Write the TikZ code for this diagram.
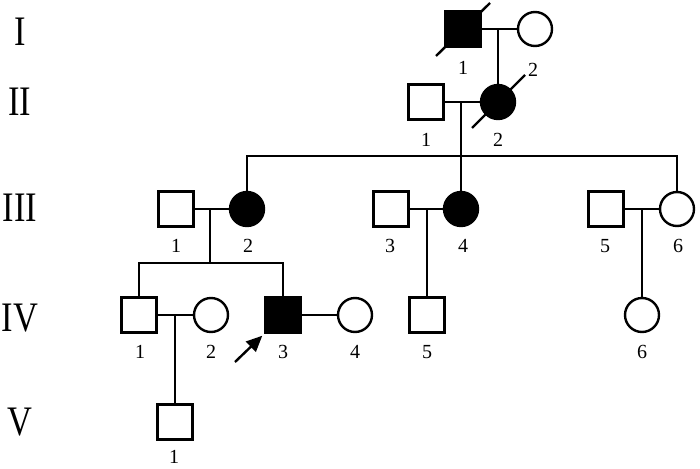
\documentclass[tikz,border=0pt]{standalone}
\usepackage{fontspec}
\setmainfont{Liberation Serif}
\usetikzlibrary{arrows.meta}

\begin{document}
\begin{tikzpicture}[x=1pt, y=-1pt]
  % Styles
  \tikzstyle{male}=[rectangle, draw, fill=white, minimum size=35pt, inner sep=0pt, line width=2.4pt]
  \tikzstyle{female}=[circle, draw, fill=white, minimum size=34pt, inner sep=0pt, line width=2.4pt]
  \tikzstyle{ill}=[fill=black]
  \tikzstyle{num}=[font=\fontsize{20}{20}\selectfont, inner sep=0pt]
  \tikzstyle{gen}=[font=\fontsize{42}{42}\selectfont, inner sep=0pt]
  \tikzstyle{link}=[line width=2.4pt]

  \useasboundingbox (0,0) rectangle (700,468);

  % Generation numerals
  \node[gen] (gI) at (20,32) {\scalebox{0.82}[1]{I}};
  \node[gen] (gII) at (20,102) {\scalebox{0.82}[1]{II}};
  \node[gen] (gIII) at (20,208) {\scalebox{0.82}[1]{III}};
  \node[gen] (gIV) at (20,318) {\scalebox{0.82}[1]{IV}};
  \node[gen] (gV) at (20,422) {\scalebox{0.82}[1]{V}};

  % Generation I
  \node[male, ill] (I1) at (463,29) {};
  \node[female] (I2) at (535,29) {};
  \draw[link] ([shift={(-27,27)}]I1.center) -- ([shift={(27,-26)}]I1.center);
  \draw[link] (I1) -- (I2);
  \coordinate (mI) at (498,29);

  % Generation II
  \node[male] (II1) at (426,102) {};
  \node[female, ill] (II2) at (498,102) {};
  \draw[link] ([shift={(-26,26)}]II2.center) -- ([shift={(27,-27)}]II2.center);
  \draw[link] (mI) -- (II2);
  \draw[link] (II1) -- (II2);
  \coordinate (mII) at (461,102);
  \coordinate (sII) at (461,156);

  % Generation III
  \node[male] (III1) at (176,209) {};
  \node[female, ill] (III2) at (247,209) {};
  \node[male] (III3) at (391,209) {};
  \node[female, ill] (III4) at (461,209) {};
  \node[male] (III5) at (606,209) {};
  \node[female] (III6) at (677,209) {};
  \draw[link] (mII) -- (sII);
  \draw[link] (III2) |- (sII) -| (III6);
  \draw[link] (sII) -- (III4);
  \draw[link] (III1) -- (III2);
  \draw[link] (III3) -- (III4);
  \draw[link] (III5) -- (III6);
  \coordinate (mIII1) at (210,209);
  \coordinate (sIII1) at (210,263);
  \coordinate (mIII2) at (427,209);
  \coordinate (mIII3) at (642,209);

  % Generation IV
  \node[male] (IV1) at (139,315) {};
  \node[female] (IV2) at (211,315) {};
  \node[male, ill] (IV3) at (283,315) {};
  \node[female] (IV4) at (355,315) {};
  \node[male] (IV5) at (427,315) {};
  \node[female] (IV6) at (642,315) {};
  \draw[link] (mIII1) -- (sIII1);
  \draw[link] (IV1) |- (sIII1) -| (IV3);
  \draw[link] (mIII2) -- (IV5);
  \draw[link] (mIII3) -- (IV6);
  \draw[link] (IV1) -- (IV2);
  \draw[link] (IV3) -- (IV4);
  \coordinate (mIV) at (175,315);

  % Generation V
  \node[male] (V1) at (175,422) {};
  \draw[link] (mIV) -- (V1);

  % Proband arrow
  \coordinate (pb) at (235,362);
  \coordinate (pt) at ([shift={(-2,2)}]IV3.south west);
  \draw[link, -{Triangle[length=16pt, width=14pt]}] (pb) -- (pt);

  % Individual numbers
  \node[num] (lI1) at (463,68) {1};
  \node[num] (lI2) at (533,70) {2};
  \node[num] (lII1) at (426,140) {1};
  \node[num] (lII2) at (498,140) {2};
  \node[num] (lIII1) at (176,246) {1};
  \node[num] (lIII2) at (248,246) {2};
  \node[num] (lIII3) at (390,246) {3};
  \node[num] (lIII4) at (463,246) {4};
  \node[num] (lIII5) at (605,246) {5};
  \node[num] (lIII6) at (678,246) {6};
  \node[num] (lIV1) at (140,352) {1};
  \node[num] (lIV2) at (211,352) {2};
  \node[num] (lIV3) at (283,352) {3};
  \node[num] (lIV4) at (355,352) {4};
  \node[num] (lIV5) at (427,352) {5};
  \node[num] (lIV6) at (642,352) {6};
  \node[num] (lV1) at (174,457) {1};
\end{tikzpicture}
\end{document}
